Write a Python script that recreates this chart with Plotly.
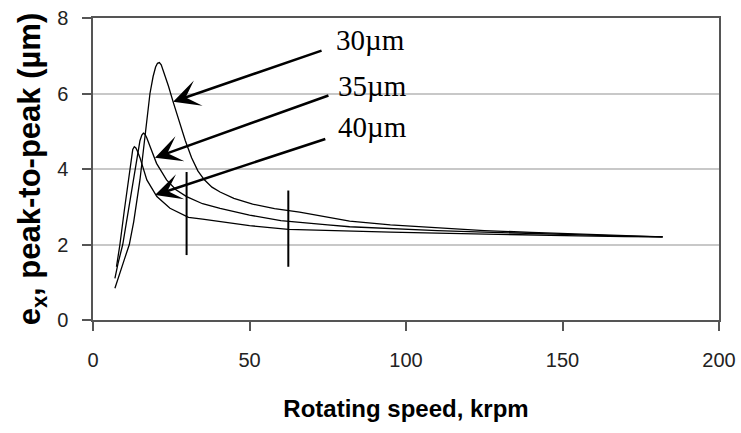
import plotly.graph_objects as go

# ---- data ----
speed_30 = [7.0, 8.5, 10.0, 11.6, 13.0, 15.0, 16.8, 18.2, 19.2, 20.0, 20.6, 21.2, 21.8,
            22.5, 23.3, 24.1, 25.7, 27.5, 29.5, 31.5, 33.5, 35.5, 38.0, 40.6, 45.0, 51.0,
            58.0, 66.0, 75.0, 82.0, 95.0, 110.0, 125.0, 140.0, 155.0, 170.0, 182.0]
ex_30 = [0.84, 1.25, 1.6, 2.0, 2.6, 3.71, 4.95, 6.0, 6.45, 6.7, 6.8, 6.82, 6.76,
         6.6, 6.42, 6.2, 5.75, 5.25, 4.75, 4.3, 3.95, 3.72, 3.52, 3.39, 3.22, 3.07,
         2.95, 2.86, 2.72, 2.62, 2.52, 2.44, 2.37, 2.32, 2.28, 2.24, 2.2]

speed_35 = [7.0, 8.0, 9.5, 11.0, 12.5, 14.0, 15.0, 15.6, 16.1, 16.6, 17.2, 18.2, 20.3,
            23.5, 26.5, 29.9, 35.0, 40.6, 50.0, 60.0, 66.0, 75.0, 82.0, 95.0, 110.0,
            125.0, 140.0, 155.0, 170.0, 182.0]
ex_35 = [1.1, 1.5, 2.0, 2.75, 3.5, 4.3, 4.75, 4.9, 4.95, 4.92, 4.82, 4.6, 4.15,
         3.71, 3.45, 3.27, 3.08, 2.96, 2.78, 2.63, 2.58, 2.52, 2.47, 2.42, 2.37,
         2.33, 2.29, 2.26, 2.22, 2.2]

speed_40 = [7.5, 8.6, 10.0, 11.5, 12.2, 12.7, 13.2, 13.7, 14.2, 15.0, 17.2, 20.4, 24.6,
            27.8, 29.9, 30.5, 35.0, 40.0, 50.0, 62.4, 70.0, 82.0, 95.0, 110.0, 125.0,
            140.0, 155.0, 170.0, 182.0]
ex_40 = [1.41, 2.0, 2.9, 3.85, 4.3, 4.52, 4.59, 4.56, 4.47, 4.3, 3.71, 3.27, 2.96,
         2.83, 2.74, 2.72, 2.67, 2.62, 2.5, 2.4, 2.38, 2.36, 2.33, 2.3, 2.27,
         2.25, 2.23, 2.21, 2.2]

# vertical transient spikes
spike_speed = [29.9, 62.4]
spike_low = [1.72, 1.41]
spike_high = [3.92, 3.43]

# labels and arrows (tail -> head, data units)
labels = ["30\u00b5m", "35\u00b5m", "40\u00b5m"]
label_x = [77.0, 77.7, 77.7]
label_y = [7.42, 6.2, 5.1]
arrow_tail_x = [73.5, 75.7, 74.7]
arrow_tail_y = [7.15, 5.96, 4.81]
arrow_head_x = [25.6, 19.8, 19.8]
arrow_head_y = [5.78, 4.30, 3.31]

x_ticks = [0, 50, 100, 150, 200]
y_ticks = [0, 2, 4, 6, 8]

fig = go.Figure()
for xs, ys, nm in [(speed_30, ex_30, "30"), (speed_35, ex_35, "35"), (speed_40, ex_40, "40")]:
    fig.add_trace(go.Scatter(x=xs, y=ys, mode="lines", name=nm,
                             line=dict(color="black", width=1.3),
                             showlegend=False, hoverinfo="skip"))

for sx, lo, hi in zip(spike_speed, spike_low, spike_high):
    fig.add_trace(go.Scatter(x=[sx, sx], y=[lo, hi], mode="lines",
                             line=dict(color="black", width=2),
                             showlegend=False, hoverinfo="skip"))

annotations = []
for tx, ty, hx, hy in zip(arrow_tail_x, arrow_tail_y, arrow_head_x, arrow_head_y):
    annotations.append(dict(x=hx, y=hy, ax=tx, ay=ty, xref="x", yref="y",
                            axref="x", ayref="y", text="", showarrow=True,
                            arrowhead=3, arrowsize=1.7, arrowwidth=2.6,
                            arrowcolor="black"))
for t, lx, ly in zip(labels, label_x, label_y):
    annotations.append(dict(x=lx, y=ly, xref="x", yref="y", text=t, showarrow=False,
                            xanchor="left", yanchor="middle",
                            font=dict(family="Liberation Serif, Times New Roman, serif",
                                      size=29, color="black")))

axis_common = dict(showline=True, linecolor="#555555", linewidth=1.5, mirror=True,
                   ticks="outside", ticklen=9, tickcolor="#555555", tickwidth=1.5,
                   zeroline=False, automargin=False,
                   tickfont=dict(family="Liberation Sans, Arial, sans-serif", size=20,
                                 color="#222222"))

fig.update_layout(
    width=741, height=433,
    margin=dict(l=93, r=22, t=18, b=113),
    paper_bgcolor="white", plot_bgcolor="white",
    annotations=annotations,
    xaxis=dict(range=[0, 200], tickvals=x_ticks, showgrid=False,
               ticklabelstandoff=12,
               title=dict(text="<b>Rotating speed, krpm</b>", standoff=30,
                          font=dict(family="Liberation Sans, Arial, sans-serif",
                                    size=24, color="black")),
               **axis_common),
    yaxis=dict(range=[0, 8], tickvals=y_ticks, showgrid=True, gridcolor="#c8c8c8",
               gridwidth=1.5, ticklabelstandoff=10,
               title=dict(text="<b>e<sub>x</sub>, peak-to-peak (\u00b5m)</b>", standoff=7,
                          font=dict(family="Liberation Sans, Arial, sans-serif",
                                    size=31, color="black")),
               **axis_common),
)

fig.write_html("out.html")
